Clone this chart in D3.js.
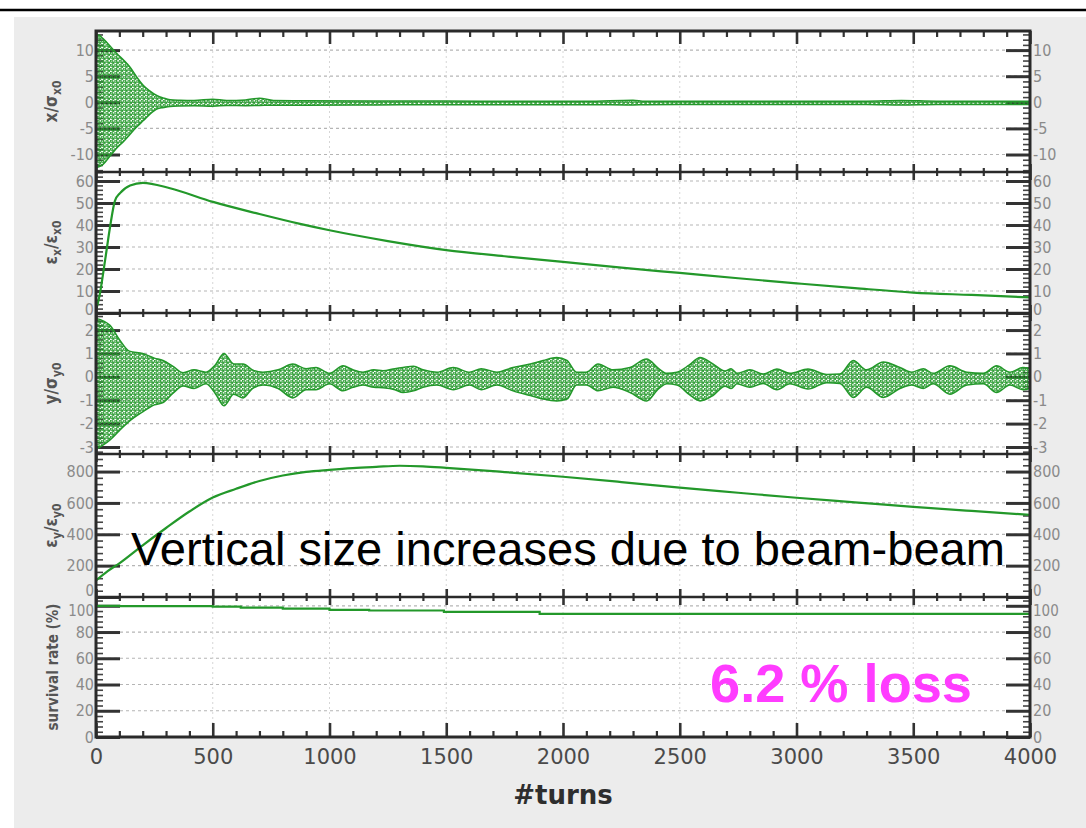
<!DOCTYPE html>
<html><head><meta charset="utf-8">
<script src="https://cdn.jsdelivr.net/npm/d3@7"></script>
<style>
html,body{margin:0;padding:0;background:#fff;}
svg{display:block;}
</style></head>
<body>
<svg id="chart" width="1086" height="828"></svg>
<script>
// ---------------- DATA ----------------
const xTickLabels = [0, 500, 1000, 1500, 2000, 2500, 3000, 3500, 4000];

// Panel 1: x/sigma_x0 — envelope of the turn-by-turn oscillation
const xEnvTurns = [0, 15, 30, 60, 90, 120, 146, 175, 203, 230, 260, 290, 317, 360, 420, 500, 560, 640, 700, 760, 900, 1200, 1500, 1800, 2100, 2300, 2350, 2500, 3000, 3300, 3450, 3600, 4000];
const xEnvUpper = [13.0, 12.8, 12.2, 10.8, 9.3, 8.0, 6.7, 4.8, 3.2, 2.2, 1.3, 0.8, 0.5, 0.4, 0.35, 0.6, 0.35, 0.45, 0.8, 0.35, 0.3, 0.25, 0.25, 0.2, 0.2, 0.4, 0.2, 0.2, 0.2, 0.2, 0.35, 0.2, 0.2];
const xEnvLower = [-12.5, -12.3, -11.9, -10.3, -8.7, -7.4, -6.1, -4.7, -3.5, -2.3, -1.3, -1.0, -0.8, -0.7, -0.65, -0.75, -0.6, -0.65, -0.6, -0.55, -0.55, -0.5, -0.45, -0.45, -0.45, -0.5, -0.45, -0.4, -0.4, -0.4, -0.5, -0.4, -0.4];
const xTicks = [-10, -5, 0, 5, 10];

// Panel 2: emittance eps_x / eps_x0
const exTurns  = [0, 17, 39, 60, 81, 103, 146, 201, 317, 501, 700, 874, 1000, 1250, 1500, 1750, 2000, 2250, 2500, 2750, 3000, 3250, 3500, 3750, 4000];
const exValues = [1, 9, 24, 39, 51, 54.5, 58, 59.2, 56.7, 50.5, 45, 40.5, 37.6, 32.7, 28.6, 25.8, 23.2, 20.6, 18.2, 15.8, 13.5, 11.3, 9.3, 8.2, 7.1];
const exTicks = [0, 10, 20, 30, 40, 50, 60];

// Panel 3: y/sigma_y0 — envelope of the turn-by-turn oscillation
const yEnvTurns = [0, 60, 100, 143, 200, 250, 287, 330, 373, 420, 471, 510, 548, 590, 630, 670, 715, 780, 843, 900, 942, 1000, 1058, 1100, 1143, 1190, 1229, 1280, 1315, 1360, 1400, 1460, 1530, 1600, 1650, 1717, 1786, 1860, 1915, 1973, 2017, 2058, 2100, 2150, 2214, 2287, 2358, 2410, 2445, 2488, 2540, 2587, 2642, 2694, 2720, 2745, 2800, 2857, 2916, 2972, 3049, 3130, 3186, 3243, 3300, 3372, 3443, 3494, 3543, 3585, 3657, 3730, 3800, 3857, 3914, 3970, 4000];
const yEnvUpper = [2.5, 2.2, 1.6, 1.1, 1.0, 0.8, 0.7, 0.45, 0.18, 0.3, 0.2, 0.5, 1.0, 0.55, 0.55, 0.3, 0.2, 0.3, 0.55, 0.35, 0.4, 0.15, 0.47, 0.3, 0.2, 0.3, 0.26, 0.35, 0.4, 0.45, 0.3, 0.2, 0.4, 0.2, 0.35, 0.2, 0.4, 0.55, 0.7, 0.83, 0.7, 0.2, 0.2, 0.55, 0.3, 0.4, 0.76, 0.35, 0.15, 0.2, 0.5, 0.83, 0.55, 0.25, 0.35, 0.15, 0.3, 0.12, 0.33, 0.15, 0.33, 0.1, 0.12, 0.7, 0.3, 0.63, 0.4, 0.2, 0.35, 0.15, 0.47, 0.2, 0.15, 0.47, 0.2, 0.4, 0.35];
const yEnvLower = [-3.1, -2.7, -2.3, -1.9, -1.5, -1.2, -1.1, -0.7, -0.39, -0.5, -0.3, -0.7, -1.24, -0.75, -0.9, -0.5, -0.35, -0.5, -0.9, -0.55, -0.55, -0.3, -0.6, -0.45, -0.35, -0.45, -0.47, -0.55, -0.67, -0.6, -0.45, -0.35, -0.55, -0.35, -0.55, -0.35, -0.6, -0.8, -0.95, -1.03, -0.95, -0.35, -0.35, -0.6, -0.45, -0.67, -1.03, -0.5, -0.3, -0.35, -0.75, -1.03, -0.8, -0.4, -0.5, -0.3, -0.45, -0.28, -0.55, -0.3, -0.52, -0.25, -0.28, -0.88, -0.45, -0.88, -0.5, -0.35, -0.5, -0.3, -0.74, -0.35, -0.3, -0.67, -0.35, -0.55, -0.5];
const yTicks = [-3, -2, -1, 0, 1, 2];

// Panel 4: emittance eps_y / eps_y0
const eyTurns  = [0, 50, 100, 200, 300, 400, 500, 600, 700, 800, 900, 1000, 1100, 1200, 1300, 1400, 1500, 1750, 2000, 2250, 2500, 2750, 3000, 3250, 3500, 3750, 4000];
const eyValues = [105, 165, 215, 330, 440, 545, 634, 690, 740, 775, 798, 811, 822, 830, 837, 833, 824, 797, 767, 733, 697, 665, 633, 604, 575, 549, 524];
const eyTicks = [0, 200, 400, 600, 800];

// Panel 5: survival rate (%)
const survTurns  = [0, 100, 500, 620, 800, 1000, 1170, 1490, 1900, 4000];
const survValues = [100, 99.8, 99.4, 98.6, 97.9, 96.9, 96.4, 95.3, 93.8, 93.8];
const survTicks = [0, 20, 40, 60, 80, 100];

// ---------------- DRAWING ----------------
const GREEN = "#23982a";
const svg = d3.select("#chart");

// page frame
svg.append("rect").attr("x", 14).attr("y", 17).attr("width", 1072).attr("height", 811).attr("fill", "#ececec");
svg.append("line").attr("x1", 0).attr("x2", 1086).attr("y1", 10).attr("y2", 10).attr("stroke", "#000").attr("stroke-width", 2.5);

const defs = svg.append("defs");
const pat = defs.append("pattern").attr("id", "speck").attr("patternUnits", "userSpaceOnUse")
  .attr("width", 4.4).attr("height", 4);
pat.append("circle").attr("cx", 1.3).attr("cy", 1.1).attr("r", 1.2).attr("fill", "none").attr("stroke", GREEN).attr("stroke-width", 1.1);
pat.append("circle").attr("cx", 3.5).attr("cy", 3.1).attr("r", 1.0).attr("fill", "none").attr("stroke", GREEN).attr("stroke-width", 1.1);

const X0 = 96, X1 = 1030;
const x = d3.scaleLinear().domain([0, 4000]).range([X0, X1]);

const panels = [
  {top: 31,  bottom: 172, domain: [-13.35, 13.66], ticks: xTicks,  minor: 1,   label: [["x/σ", null], ["x0", "sub"]]},
  {top: 172, bottom: 313, domain: [0, 64.1],       ticks: exTicks, minor: 2,   label: [["ε", null], ["x", "sub"], ["/ε", null], ["x0", "sub"]]},
  {top: 313, bottom: 454, domain: [-3.30, 2.73],   ticks: yTicks,  minor: 0.2, label: [["y/σ", null], ["y0", "sub"]]},
  {top: 454, bottom: 597, domain: [0, 912],        ticks: eyTicks, minor: 40,  label: [["ε", null], ["y", "sub"], ["/ε", null], ["y0", "sub"]]},
  {top: 597, bottom: 737, domain: [0, 106.7],      ticks: survTicks, minor: 4, label: [["survival rate (%)", null]]}
];
panels.forEach(p => { p.y = d3.scaleLinear().domain(p.domain).range([p.bottom, p.top]); });

// plot background
svg.append("rect").attr("x", X0).attr("y", 31).attr("width", X1 - X0).attr("height", 737 - 31).attr("fill", "#fff");

const tickFont = "'DejaVu Sans Condensed','DejaVu Sans',sans-serif";
const fmt = d => String(d);

panels.forEach((p, i) => {
  const g = svg.append("g");
  // horizontal grid
  g.selectAll("line.hg").data(p.ticks.filter(t => p.y(t) > p.top + 3 && p.y(t) < p.bottom - 3)).join("line")
    .attr("x1", X0).attr("x2", X1).attr("y1", d => p.y(d)).attr("y2", d => p.y(d))
    .attr("stroke", "#b5b5b5").attr("stroke-width", 1.2).attr("stroke-dasharray", "3,3");
  // vertical grid
  g.selectAll("line.vg").data(xTickLabels.slice(1, -1)).join("line")
    .attr("x1", d => x(d)).attr("x2", d => x(d)).attr("y1", p.top).attr("y2", p.bottom)
    .attr("stroke", "#d6d6d6").attr("stroke-width", 1).attr("stroke-dasharray", "2,3");

  // minor tick values
  const [d0, d1] = p.domain;
  const minorVals = d3.range(Math.ceil(d0 / p.minor) * p.minor, d1 + 1e-9, p.minor)
    .map(v => +v.toFixed(4)).filter(v => !p.ticks.some(t => Math.abs(t - v) < 1e-6));

  [[X0, d3.axisRight], [X1, d3.axisLeft]].forEach(([xx, ax]) => {
    g.append("g").attr("transform", `translate(${xx},0)`)
      .call(ax(p.y).tickValues(p.ticks).tickSize(24).tickFormat(""))
      .call(a => a.select(".domain").remove())
      .call(a => a.selectAll("line").attr("stroke", "#333").attr("stroke-width", 3));
    g.append("g").attr("transform", `translate(${xx},0)`)
      .call(ax(p.y).tickValues(minorVals).tickSize(7).tickFormat(""))
      .call(a => a.select(".domain").remove())
      .call(a => a.selectAll("line").attr("stroke", "#444").attr("stroke-width", 1.6));
  });

  // tick labels left & right
  [[X0, d3.axisLeft, 2], [X1, d3.axisRight, 3]].forEach(([xx, ax, pad]) => {
    const lbl = svg.append("g").attr("transform", `translate(${xx},0)`)
      .call(ax(p.y).tickValues(p.ticks).tickSize(0).tickPadding(pad).tickFormat(fmt));
    lbl.select(".domain").remove();
    lbl.selectAll("text").attr("fill", "#8a8a8a").style("font-family", tickFont).style("font-size", "16px");
    // separate the labels that sit on a shared panel border
    lbl.selectAll(".tick").filter(d => Math.abs(p.y(d) - p.bottom) < 0.5 && i < 4).select("text")
      .attr("dy", i === 3 ? "-0.12em" : "0.12em").style("font-size", i === 3 ? "15px" : "16px");
    lbl.selectAll(".tick").filter(d => Math.abs(p.y(d) - p.top) < 12 && i === 4).select("text")
      .attr("dy", "0.68em").style("font-size", "15px");
  });

  // y axis title
  const cy = (p.top + p.bottom) / 2;
  const t = svg.append("text").attr("transform", `translate(${i === 4 ? 58 : 57},${cy}) rotate(-90)`)
    .attr("text-anchor", "middle").attr("fill", "#555")
    .style("font-family", tickFont).style("font-weight", "bold").style("font-size", i === 4 ? "15px" : "17px");
  p.label.forEach(([s, kind]) => {
    const ts = t.append("tspan").text(s);
    if (kind === "sub") ts.attr("baseline-shift", "-30%").style("font-size", "12px");
  });
});

// ---- data marks ----
function envArea(p, turns, up, lo) {
  const rows = turns.map((t, k) => ({t, u: up[k], l: lo[k]}));
  const area = d3.area().x(d => x(d.t)).y0(d => p.y(d.l)).y1(d => p.y(d.u)).curve(d3.curveMonotoneX);
  svg.append("path").datum(rows).attr("d", area).attr("fill", "url(#speck)")
    .attr("stroke", GREEN).attr("stroke-width", 1.5).attr("stroke-linejoin", "round");
}
function curve(p, turns, vals, c) {
  const rows = turns.map((t, k) => ({t, v: vals[k]}));
  svg.append("path").datum(rows)
    .attr("d", d3.line().x(d => x(d.t)).y(d => p.y(d.v)).curve(c || d3.curveMonotoneX))
    .attr("fill", "none").attr("stroke", GREEN).attr("stroke-width", 2.2);
}
envArea(panels[0], xEnvTurns, xEnvUpper, xEnvLower);
curve(panels[1], exTurns, exValues);
envArea(panels[2], yEnvTurns, yEnvUpper, yEnvLower);
curve(panels[3], eyTurns, eyValues);
curve(panels[4], survTurns, survValues, d3.curveStepAfter);

// ---- panel frame & x ticks ----
const xMinor = d3.range(0, 4001, 100).filter(v => v % 500 !== 0);
const frame = svg.append("g");
function xTicksAt(yy, axis, size, vals, w) {
  frame.append("g").attr("transform", `translate(0,${yy})`)
    .call(axis(x).tickValues(vals).tickSize(size).tickFormat(""))
    .call(a => a.select(".domain").remove())
    .call(a => a.selectAll("line").attr("stroke", "#333").attr("stroke-width", w));
}
[172, 313, 454, 597].forEach(yy => {
  xTicksAt(yy - 8, d3.axisBottom, 16, xTickLabels, 2.6);
  xTicksAt(yy - 4, d3.axisBottom, 8, xMinor, 2.2);
  frame.append("line").attr("x1", X0).attr("x2", X1).attr("y1", yy).attr("y2", yy)
    .attr("stroke", "#2a2a2a").attr("stroke-width", 2.6);
});
xTicksAt(31, d3.axisBottom, 13, xTickLabels, 2.6);
xTicksAt(31, d3.axisBottom, 6, xMinor, 2.2);
xTicksAt(737, d3.axisTop, 14, xTickLabels, 2.6);
xTicksAt(737, d3.axisTop, 6, xMinor, 2.2);
// outer frame
frame.append("rect").attr("x", X0).attr("y", 31).attr("width", X1 - X0).attr("height", 737 - 31)
  .attr("fill", "none").attr("stroke", "#2a2a2a").attr("stroke-width", 3);

// bottom tick labels
const xl = svg.append("g").attr("transform", "translate(0,748)")
  .call(d3.axisBottom(x).tickValues(xTickLabels).tickSize(0).tickPadding(1).tickFormat(fmt));
xl.select(".domain").remove();
xl.selectAll("text").attr("fill", "#4a4a4a").style("font-family", "'DejaVu Sans',sans-serif").style("font-size", "21px");

svg.append("text").attr("x", 563).attr("y", 804).attr("text-anchor", "middle")
  .attr("fill", "#2e2e2e").style("font-family", "'DejaVu Sans',sans-serif").style("font-weight", "bold").style("font-size", "26px")
  .text("#turns");

// annotations
const ann = svg.append("text").attr("x", 131).attr("y", 565).attr("fill", "#000")
  .style("font-family", "'Liberation Sans',Arial,sans-serif").style("font-size", "46px")
  .text("Vertical size increases due to beam-beam");
const w = ann.node().getComputedTextLength();
ann.style("font-size", (46 * 874 / w).toFixed(2) + "px");

const loss = svg.append("text").attr("x", 710).attr("y", 702).attr("fill", "#ff3cff")
  .style("font-family", "'Liberation Sans',Arial,sans-serif").style("font-weight", "bold").style("font-size", "54px")
  .text("6.2 % loss");
const w2 = loss.node().getComputedTextLength();
loss.style("font-size", (54 * 262 / w2).toFixed(2) + "px");
</script>
</body></html>
